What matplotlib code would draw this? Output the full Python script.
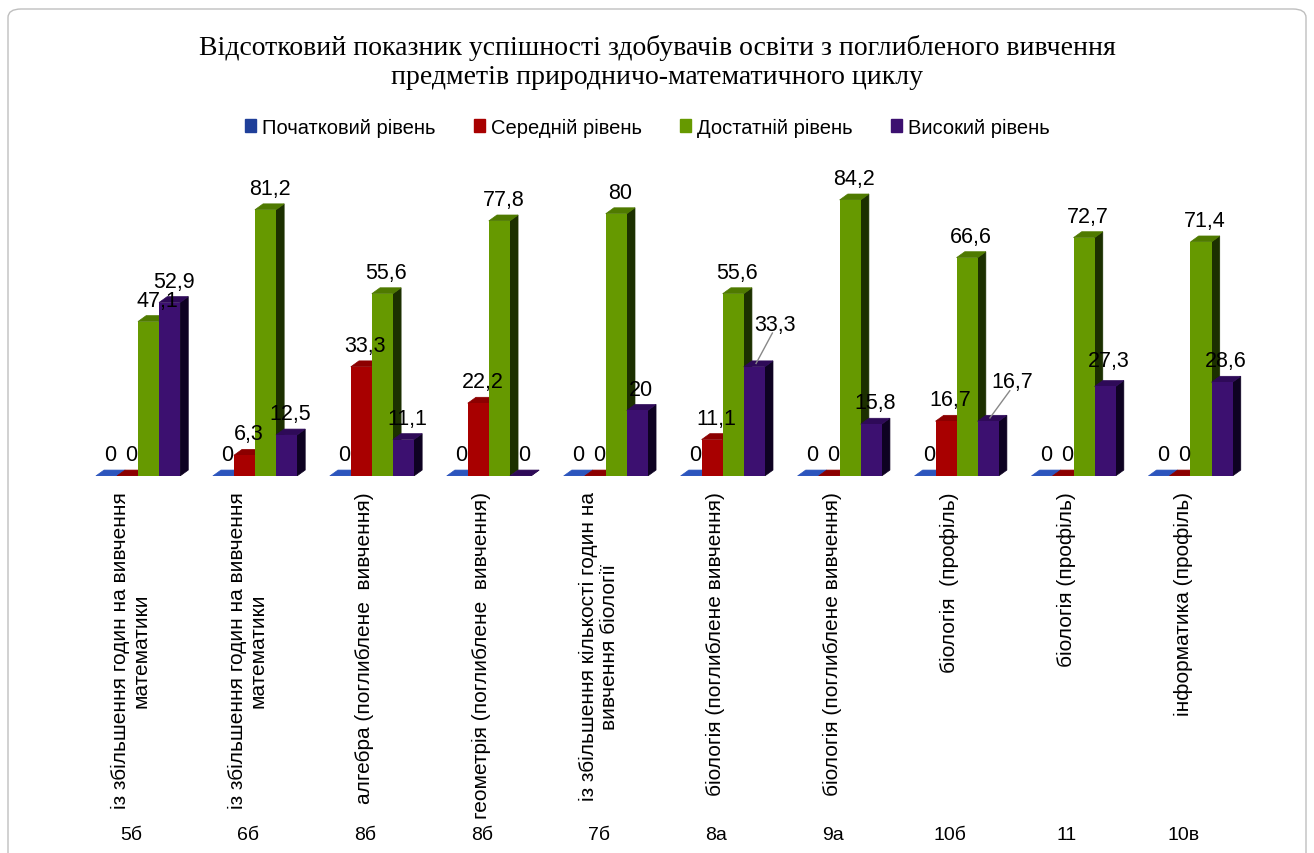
import matplotlib.pyplot as plt
from matplotlib.patches import Polygon, Patch, FancyBboxPatch
import matplotlib.transforms as mtransforms
import numpy as np

plt.rcParams['font.family'] = ['Liberation Sans', 'DejaVu Sans']

# data
classes = ['5б', '6б', '8б', '8б', '7б', '8а', '9а', '10б', '11', '10в']
subjects = [
    'із збільшення годин на вивчення\nматематики',
    'із збільшення годин на вивчення\nматематики',
    'алгебра (поглиблене  вивчення)',
    'геометрія (поглиблене  вивчення)',
    'із збільшення кількості годин на\nвивчення біології',
    'біологія (поглиблене вивчення)',
    'біологія (поглиблене вивчення)',
    'біологія  (профіль)',
    'біологія (профіль)',
    'інформатика (профіль)',
]
series_names = ['Початковий рівень', 'Середній рівень', 'Достатній рівень', 'Високий рівень']
initial = [0, 0, 0, 0, 0, 0, 0, 0, 0, 0]
medium = [0, 6.3, 33.3, 22.2, 0, 11.1, 0, 16.7, 0, 0]
sufficient = [47.1, 81.2, 55.6, 77.8, 80, 55.6, 84.2, 66.6, 72.7, 71.4]
high = [52.9, 12.5, 11.1, 0, 20, 33.3, 15.8, 16.7, 27.3, 28.6]

# colours: front, top, side
colors = [
    ('#1f3f99', '#2c55bd', '#0b1d55'),
    ('#a80000', '#8c0000', '#4a0000'),
    ('#669900', '#4f7a00', '#1c3000'),
    ('#3c1070', '#2e0a58', '#0e0222'),
]

fig = plt.figure(figsize=(13.14, 8.54), dpi=100)
ax = fig.add_axes([0.0605, 0.4415, 0.890, 0.3455])

x = np.arange(len(classes))
w = 0.18
dx, dy = 0.07, 1.8
all_series = [initial, medium, sufficient, high]

for i in range(len(classes)):
    for j, vals in enumerate(all_series):
        v = vals[i]
        x0 = x[i] + (j - 2) * w
        x1 = x0 + w
        fc, tc, sc = colors[j]
        z = 2 + i * 10 + j
        # side face
        ax.add_patch(Polygon([(x1, 0), (x1 + dx, dy), (x1 + dx, v + dy), (x1, v)],
                             closed=True, fc=sc, ec=sc, lw=0.5, zorder=z))
        # top face
        ax.add_patch(Polygon([(x0, v), (x0 + dx, v + dy), (x1 + dx, v + dy), (x1, v)],
                             closed=True, fc=tc, ec=tc, lw=0.5, zorder=z))
        # front face
        ax.bar(x0, v, width=w, align='edge', color=fc, zorder=z)

# data labels
label_shift = {(5, 3): (0.14, 6.5), (7, 3): (0.17, 5.5), (0, 2): (0.04, 0), (8, 3): (0, 1.5)}
for j, vals in enumerate(all_series):
    for i, v in enumerate(vals):
        cx = x[i] + (j - 1.5) * w + dx / 2
        sx, sy = label_shift.get((i, j), (0, 0))
        tx, ty = cx + sx, v + dy + 1.5 + sy
        txt = f'{v:g}'.replace('.', ',')
        ax.text(tx, ty, txt, ha='center', va='bottom', fontsize=15.5, zorder=200)
        if (i, j) in [(5, 3), (7, 3)]:
            ax.plot([tx - 0.02, cx - 0.02], [ty + 0.5, v + dy - 0.8], color='#888888',
                    lw=1, zorder=201)

ax.set_xlim(-0.5, 9.5)
ax.set_ylim(0, 90)
ax.set_yticks([])
for s in ax.spines.values():
    s.set_visible(False)
ax.set_xticks(x - 0.06)
ax.set_xticklabels(subjects, rotation=90, va='top', ha='center',
                   multialignment='center', fontsize=15, linespacing=1.12)
ax.tick_params(axis='x', length=0, pad=11)

trans = mtransforms.blended_transform_factory(ax.transData, fig.transFigure)
for i, c in enumerate(classes):
    ax.text(x[i] - 0.06, 1 - 836 / 854, c, transform=trans, ha='center', va='center',
            fontsize=14)

fig.text(0.5, 0.927, 'Відсотковий показник успішності здобувачів освіти з поглибленого вивчення\n'
         'предметів природничо-математичного циклу', ha='center', va='center',
         fontsize=20, family=['Liberation Serif', 'DejaVu Serif'], linespacing=1.22)

handles = [Patch(color=c[0]) for c in colors]
fig.legend(handles, series_names, loc='center', bbox_to_anchor=(0.4928, 0.85), ncol=4,
           frameon=False, fontsize=14.5, handlelength=0.55, handleheight=0.55,
           handletextpad=0.3, columnspacing=1.9)

fig.patches.append(FancyBboxPatch((8 / 1314, -0.02), 1298 / 1314, 1 - 10 / 854 + 0.02,
                                  boxstyle='round,pad=0,rounding_size=0.01',
                                  transform=fig.transFigure, fc='none', ec='#bfbfbf', lw=1))

fig.savefig('out.png', dpi=100)
